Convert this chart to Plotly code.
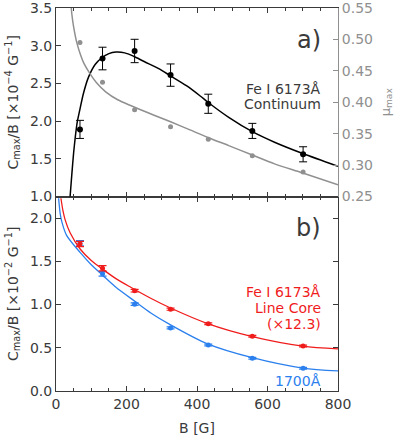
import plotly.graph_objects as go

# ---------------- data ----------------
B_obs = [68, 132, 223, 325, 432, 557, 701]

# panel a) Fe I 6173 continuum
cont_C = [1.89, 2.83, 2.93, 2.61, 2.23, 1.87, 1.56]
cont_err = [0.12, 0.15, 0.155, 0.148, 0.127, 0.10, 0.10]
mu_obs = [0.495, 0.432, 0.388, 0.361, 0.341, 0.315, 0.289]

cont_fit_B = [38, 40, 45, 50, 55, 60, 68, 78, 92, 111, 130, 150, 170, 195, 220,
              250, 290, 325, 370, 410, 431, 490, 557, 620, 700, 800]
cont_fit_C = [0.88, 1.00, 1.30, 1.58, 1.80, 1.98, 2.16, 2.37, 2.58, 2.75, 2.84,
              2.895, 2.915, 2.905, 2.86, 2.79, 2.70, 2.60, 2.47, 2.33, 2.25,
              2.05, 1.86, 1.72, 1.57, 1.40]

mu_fit_B = [42, 45, 50, 59, 70, 80, 94, 115, 141, 175, 215, 240, 280, 325, 380,
            431, 490, 557, 620, 700, 800]
mu_fit = [0.56, 0.54, 0.52, 0.495, 0.475, 0.461, 0.4475, 0.431, 0.4166, 0.404,
          0.394, 0.388, 0.379, 0.369, 0.356, 0.344, 0.331, 0.316, 0.302, 0.2875,
          0.2686]

# panel b) Fe I 6173 line core (x12.3) and 1700 A
core_C = [1.70, 1.42, 1.16, 0.946, 0.779, 0.633, 0.521]
core_err = [0.03, 0.03, 0.015, 0.012, 0.01, 0.01, 0.01]
uv_C = [1.71, 1.355, 1.005, 0.73, 0.533, 0.379, 0.263]
uv_err = [0.03, 0.025, 0.015, 0.012, 0.01, 0.01, 0.01]

core_fit_B = [14, 20, 26, 40, 69, 100, 132, 170, 212, 270, 325, 430, 557, 700, 800]
core_fit_C = [2.23, 2.08, 1.98, 1.83, 1.64, 1.51, 1.41, 1.30, 1.20, 1.07, 0.96,
              0.78, 0.63, 0.52, 0.487]
uv_fit_B = [7.4, 12, 17, 30, 69, 100, 132, 170, 223, 270, 325, 430, 557, 700, 800]
uv_fit_C = [2.23, 2.05, 1.95, 1.80, 1.60, 1.46, 1.34, 1.20, 1.04, 0.90, 0.765,
            0.545, 0.385, 0.265, 0.232]

x_ticks = [0, 200, 400, 600, 800]
ya_ticks = [1.0, 1.5, 2.0, 2.5, 3.0, 3.5]
mu_ticks = [0.25, 0.30, 0.35, 0.40, 0.45, 0.50, 0.55]
yb_ticks = [0.0, 0.5, 1.0, 1.5, 2.0]

# ---------------- styling ----------------
FONT = "DejaVu Sans"
DARK = "#3a3a3a"
GRAY = "#909090"
RED = "#f01c1c"
BLUE = "#2b80ee"
SPLIT = 0.5078

fig = go.Figure()

# panel a
fig.add_trace(go.Scatter(x=mu_fit_B, y=mu_fit, xaxis="x2", yaxis="y3",
                         mode="lines", line=dict(color=GRAY, width=1.5, shape="spline", smoothing=0.8)))
fig.add_trace(go.Scatter(x=B_obs, y=mu_obs, xaxis="x2", yaxis="y3",
                         mode="markers", marker=dict(color=GRAY, size=5)))
fig.add_trace(go.Scatter(x=cont_fit_B, y=cont_fit_C, xaxis="x2", yaxis="y2",
                         mode="lines", line=dict(color="black", width=1.5, shape="spline", smoothing=0.8)))
fig.add_trace(go.Scatter(x=B_obs, y=cont_C, xaxis="x2", yaxis="y2",
                         mode="markers", marker=dict(color="black", size=6),
                         error_y=dict(type="data", array=cont_err, color="black",
                                      thickness=1, width=4)))

# panel b
fig.add_trace(go.Scatter(x=uv_fit_B, y=uv_fit_C, xaxis="x", yaxis="y",
                         mode="lines", line=dict(color=BLUE, width=1.3, shape="spline", smoothing=0.8)))
fig.add_trace(go.Scatter(x=B_obs, y=uv_C, xaxis="x", yaxis="y",
                         mode="markers", marker=dict(color=BLUE, size=5),
                         error_y=dict(type="data", array=uv_err, color=BLUE,
                                      thickness=1.2, width=4)))
fig.add_trace(go.Scatter(x=core_fit_B, y=core_fit_C, xaxis="x", yaxis="y",
                         mode="lines", line=dict(color=RED, width=1.3, shape="spline", smoothing=0.8)))
fig.add_trace(go.Scatter(x=B_obs, y=core_C, xaxis="x", yaxis="y",
                         mode="markers", marker=dict(color=RED, size=5),
                         error_y=dict(type="data", array=core_err, color=RED,
                                      thickness=1.2, width=4)))

axis_common = dict(showgrid=False, zeroline=False, showline=True, linecolor=DARK,
                   linewidth=1, ticks="inside", tickcolor=DARK, ticklen=5,
                   automargin=False, ticklabeloverflow="allow",
                   tickfont=dict(family=FONT, size=14, color=DARK))

fig.update_layout(
    width=396, height=436,
    margin=dict(l=56, r=58, t=8, b=45),
    paper_bgcolor="white", plot_bgcolor="white",
    showlegend=False, hovermode=False,
    font=dict(family=FONT, size=14, color=DARK),
    xaxis=dict(**axis_common, domain=[0, 1], anchor="y", range=[0, 800],
               tickvals=x_ticks, mirror="ticks",
               minor=dict(dtick=50, ticks="inside", ticklen=3, tickcolor=DARK),
               title=dict(text="B [G]", font=dict(family=FONT, size=14, color=DARK), standoff=15)),
    yaxis=dict(**axis_common, domain=[0, SPLIT], anchor="x", range=[0, 2.25],
               tickvals=yb_ticks, tickformat=".1f", mirror="ticks",
               title=dict(text="C<sub>max</sub>/B [×10<sup>−2</sup> G<sup>−1</sup>]",
                          font=dict(family=FONT, size=14, color=DARK), standoff=8)),
    xaxis2=dict(**axis_common, domain=[0, 1], anchor="y2", range=[0, 800],
                tickvals=x_ticks, showticklabels=False, mirror="ticks",
                minor=dict(dtick=50, ticks="inside", ticklen=3, tickcolor=DARK)),
    yaxis2=dict(**axis_common, domain=[SPLIT, 1], anchor="x2", range=[1.0, 3.5],
                tickvals=ya_ticks, tickformat=".1f",
                title=dict(text="C<sub>max</sub>/B [×10<sup>−4</sup> G<sup>−1</sup>]",
                           font=dict(family=FONT, size=14, color=DARK), standoff=8)),
    yaxis3=dict(showgrid=False, zeroline=False, showline=True, linecolor=GRAY,
                linewidth=1, ticks="inside", tickcolor=GRAY, ticklen=5,
                automargin=False, ticklabeloverflow="allow",
                tickfont=dict(family=FONT, size=14, color=GRAY),
                overlaying="y2", side="right", anchor="x2", range=[0.25, 0.55],
                tickvals=mu_ticks, tickformat=".2f",
                title=dict(text="μ<sub>max</sub>", font=dict(family=FONT, size=13, color=GRAY),
                           standoff=8)),
)

ann = []
def add_text(text, x, y, xref, yref, size, color, xanchor="right"):
    ann.append(dict(text=text, x=x, y=y, xref=xref, yref=yref, showarrow=False,
                    xanchor=xanchor, yanchor="middle",
                    font=dict(family=FONT, size=size, color=color)))

add_text("a)", 757, 3.08, "x2", "y2", 24, DARK)
add_text("Fe I 6173Å", 757, 2.43, "x2", "y2", 14, DARK)
add_text("Continuum", 757, 2.23, "x2", "y2", 14, DARK)
add_text("b)", 757, 1.886, "x", "y", 24, DARK)
add_text("Fe I 6173Å", 757, 1.14, "x", "y", 14, RED)
add_text("Line Core", 757, 0.96, "x", "y", 14, RED)
add_text("(×12.3)", 757, 0.775, "x", "y", 14, RED)
add_text("1700Å", 757, 0.116, "x", "y", 14, BLUE)
fig.update_layout(annotations=ann)

fig.write_html("out.html", config={"displayModeBar": False},
               post_script="document.body.style.margin='0';")
